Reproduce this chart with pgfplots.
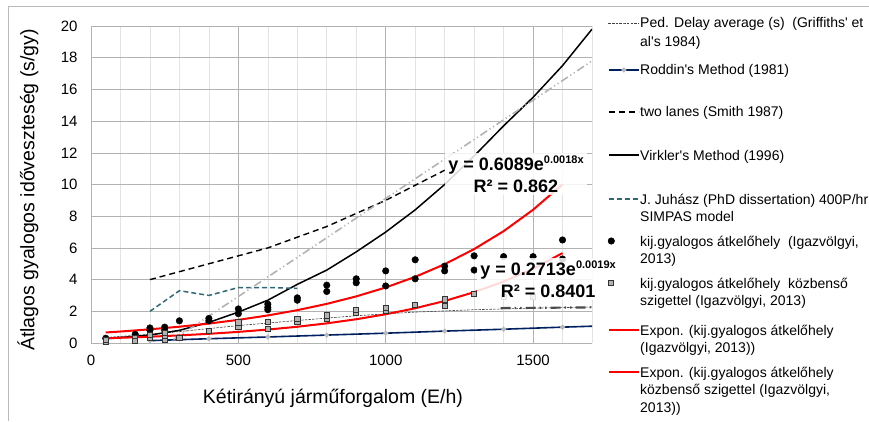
\documentclass[border=0pt]{standalone}
\usepackage{fontspec}
\setmainfont{Liberation Sans}
\usepackage{pgfplots}
\pgfplotsset{compat=1.18}
\definecolor{navy}{RGB}{0,32,96}
\definecolor{tealj}{RGB}{49,104,118}
\pgfplotsset{
  legend image code/.code={\draw[mark repeat=2,mark phase=2,#1] plot coordinates {(0pt,0pt) (15pt,0pt) (30pt,0pt)};},
  sPed/.style={black!75, line width=0.6pt, dash pattern=on 2.5pt off 1.2pt},
  sRod/.style={navy, line width=1.6pt, mark=*, mark size=1.6pt, mark options={fill=gray!55, draw=gray!55}},
  sTwo/.style={black, line width=1.4pt, dash pattern=on 6pt off 4pt},
  sVir/.style={black, line width=1.5pt},
  sJuh/.style={tealj, line width=1.5pt, dash pattern=on 5pt off 3pt},
  sDot/.style={only marks, mark=*, mark size=3.3pt, black},
  sSq/.style={only marks, mark=square*, mark size=2.6pt, mark options={fill=gray!60, draw=black!80, line width=0.7pt}},
  sExp/.style={red, line width=2pt},
  legbox/.style={hide axis, scale only axis, width=30pt, height=1pt, xmin=0, xmax=1, ymin=0, ymax=1,
    anchor=west, legend style={at={(axis description cs:0,0.5)}, anchor=west, draw=none, fill=none,
    inner sep=0pt, outer sep=0pt, nodes={inner sep=0pt}}},
}
\begin{document}
\begin{tikzpicture}[x=1pt,y=1pt]
\path[use as bounding box] (0,0) rectangle (869,421);
\draw[gray!55, line width=0.8pt] (8,0) -- (8,415) -- (869,415);
\begin{axis}[
  at={(91pt,78pt)}, anchor=south west,
  scale only axis, width=501pt, height=317pt,
  xmin=0, xmax=1700, ymin=0, ymax=20,
  xtick={0,500,1000,1500}, minor xtick={100,200,...,1700},
  ytick={0,2,...,20},
  xmajorgrids, xminorgrids, ymajorgrids,
  major grid style={gray!60, line width=0.6pt},
  minor grid style={gray!22, line width=0.6pt},
  axis x line*=bottom, axis y line*=left,
  axis line style={gray!60, line width=0.6pt, -},
  major tick length=0pt, minor tick length=0pt,
  tick label style={font=\fontsize{15}{18}\selectfont},
  /pgf/number format/assume math mode=true,
  /pgf/number format/1000 sep={},
  scaled x ticks=false,
  xticklabel style={yshift=-8pt},
  yticklabel style={xshift=-10pt},
  xlabel={Kétirányú járműforgalom (E/h)},
  ylabel={Átlagos gyalogos időveszteség (s/gy)},
  label style={font=\fontsize{19.5}{23}\selectfont},
  xlabel style={at={(axis description cs:0.483,-0.1735)}, anchor=center},
  ylabel style={at={(axis description cs:-0.1257,0.4826)}, anchor=center},
]
\addplot[sPed] coordinates {
 (50,0.35) (200,0.55) (300,0.72) (500,1.1) (700,1.42) (900,1.72) (1100,1.95) (1300,2.1) (1500,2.2) (1700,2.27)};
\addplot[sRod] coordinates {
 (200,0.15) (400,0.27) (600,0.38) (800,0.5) (1000,0.62) (1200,0.75) (1400,0.87) (1600,1.0) (1800,1.12)};
\addplot[sTwo] coordinates {
 (200,4.0) (400,5.0) (600,6.0) (800,7.35) (1000,9.0) (1200,10.9)};
\addplot[sVir] coordinates {
 (50,0.27) (200,0.5) (300,0.8) (400,1.3) (500,1.95) (600,2.7) (700,3.7) (800,4.6) (900,5.75) (1000,7.0)
 (1100,8.4) (1200,10.0) (1300,11.8) (1400,13.7) (1500,15.5) (1600,17.5) (1700,19.8)};
\addplot[sJuh] coordinates {
 (200,2.0) (300,3.3) (400,3.0) (500,3.5) (600,3.5) (700,3.45)};
\addplot[sDot] coordinates {
 (50,0.3) (150,0.55) (200,0.95) (200,0.8) (250,1.0) (250,0.8) (300,1.4) (400,1.55) (400,1.4)
 (500,2.15) (500,1.85) (600,2.45) (600,2.25) (600,2.1) (700,2.85) (700,2.7) (800,3.65) (800,3.25)
 (900,4.05) (900,3.8) (1000,4.55) (1000,3.6) (1100,5.25) (1100,4.05) (1200,4.85) (1200,4.55)
 (1300,5.5) (1300,4.6) (1400,5.45) (1500,5.45) (1600,6.5) (1600,5.3)};
\addplot[sSq] coordinates {
 (50,0.1) (50,0.2) (150,0.3) (150,0.15) (200,0.3) (200,0.5) (250,0.2) (250,0.45) (250,0.65) (300,0.35)
 (400,0.75) (500,1.0) (500,1.3) (600,0.9) (600,1.35) (700,1.35) (700,1.5) (800,1.55) (800,1.75)
 (900,1.9) (900,2.1) (1000,2.05) (1000,2.2) (1100,2.4) (1200,2.75) (1200,2.35) (1300,3.1) (1400,2.9) (1500,2.9)};
\addplot[gray!60, line width=1.6pt, dash pattern=on 8pt off 3pt on 1.2pt off 3pt on 1.2pt off 3pt] coordinates {
 (280,0.22) (700,5.4) (1200,11.6) (1700,17.8)};
\addplot[black!70, line width=2.2pt, dash pattern=on 10pt off 4pt on 1.5pt off 4pt on 1.5pt off 4pt] coordinates {
 (1390,2.2) (1700,2.25)};
\addplot[sExp] coordinates {
 (50,0.664) (100,0.725) (200,0.864) (300,1.029) (400,1.226) (500,1.461) (600,1.740) (700,2.073) (800,2.469)
 (900,2.941) (1000,3.504) (1100,4.174) (1200,4.972) (1300,5.924) (1400,7.056) (1500,8.405) (1600,10.013)};
\addplot[sExp] coordinates {
 (50,0.298) (100,0.328) (200,0.397) (300,0.480) (400,0.580) (500,0.702) (600,0.848) (700,1.026) (800,1.240)
 (900,1.500) (1000,1.814) (1100,2.193) (1200,2.652) (1300,3.207) (1400,3.879) (1500,4.690) (1600,5.672)};
\coordinate (E1) at (axis cs:1442,10.66);
\coordinate (E2) at (axis cs:1551,4.04);
\end{axis}
\node[fill=white, fill opacity=0.85, text opacity=1, align=center, inner sep=3pt, font=\fontsize{18}{21.5}\selectfont\bfseries] at (E1) {y = 0.6089e\raisebox{0.42em}{\fontsize{11}{11}\selectfont 0.0018x}\\R² = 0.862};
\node[fill=white, fill opacity=0.85, text opacity=1, align=center, inner sep=3pt, font=\fontsize{18}{21.5}\selectfont\bfseries] at (E2) {y = 0.2713e\raisebox{0.42em}{\fontsize{11}{11}\selectfont 0.0019x}\\R² = 0.8401};
% legend samples (one small legend for each entry)
\begin{axis}[legbox, at={(608pt,398pt)}] \addlegendimage{sPed} \addlegendentry{\mbox{}} \end{axis}
\begin{axis}[legbox, at={(608pt,351pt)}] \addlegendimage{sRod} \addlegendentry{\mbox{}} \end{axis}
\begin{axis}[legbox, at={(608pt,309pt)}] \addlegendimage{sTwo} \addlegendentry{\mbox{}} \end{axis}
\begin{axis}[legbox, at={(608pt,266pt)}] \addlegendimage{sVir} \addlegendentry{\mbox{}} \end{axis}
\begin{axis}[legbox, at={(608pt,222pt)}] \addlegendimage{sJuh} \addlegendentry{\mbox{}} \end{axis}
\begin{axis}[legbox, at={(608pt,180pt)}] \addlegendimage{sDot} \addlegendentry{\mbox{}} \end{axis}
\begin{axis}[legbox, at={(608pt,138pt)}] \addlegendimage{sSq} \addlegendentry{\mbox{}} \end{axis}
\begin{axis}[legbox, at={(608pt,91pt)}] \addlegendimage{sExp} \addlegendentry{\mbox{}} \end{axis}
\begin{axis}[legbox, at={(608pt,49pt)}] \addlegendimage{sExp} \addlegendentry{\mbox{}} \end{axis}
% legend texts
\begin{scope}[every node/.style={anchor=base west, inner sep=0pt, font=\fontsize{14}{18}\selectfont}]
\node at (640,393) {Ped. Delay average (s)\ \ (Griffiths\textquotesingle{} et};
\node at (640,374) {al\textquotesingle s 1984)};
\node at (640,346) {Roddin\textquotesingle s Method (1981)};
\node at (640,304) {two lanes (Smith 1987)};
\node at (640,261) {Virkler\textquotesingle s Method (1996)};
\node at (640,217) {J. Juhász (PhD dissertation) 400P/hr};
\node at (640,200) {SIMPAS model};
\node at (640,175) {kij.gyalogos átkelőhely\ \ (Igazvölgyi,};
\node at (640,158) {2013)};
\node at (640,133) {kij.gyalogos átkelőhely\ \ közbenső};
\node at (640,116) {szigettel (Igazvölgyi, 2013)};
\node at (640,86) {Expon. (kij.gyalogos átkelőhely};
\node at (640,69) {(Igazvölgyi, 2013))};
\node at (640,44) {Expon. (kij.gyalogos átkelőhely};
\node at (640,27) {közbenső szigettel (Igazvölgyi,};
\node at (640,9) {2013))};
\end{scope}
\end{tikzpicture}
\end{document}
